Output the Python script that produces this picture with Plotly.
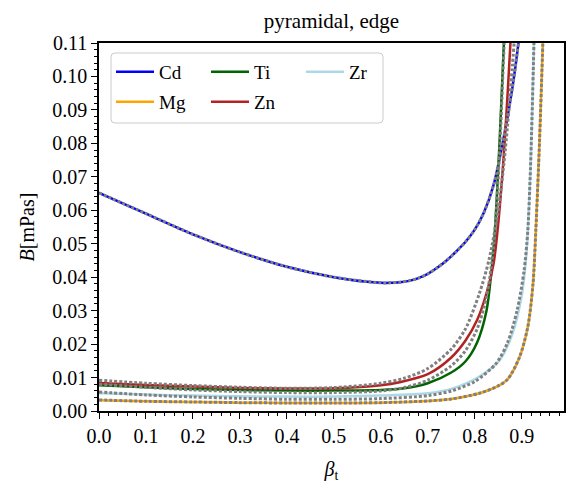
import plotly.graph_objects as go

# ---- data ----
cd_x = [0.0, 0.1, 0.2, 0.3, 0.4, 0.5, 0.6, 0.62, 0.64, 0.66, 0.68, 0.7, 0.72, 0.74, 0.76, 0.78, 0.8, 0.82, 0.84, 0.86, 0.88, 0.893, 0.9]
cd_y = [0.0652, 0.0590, 0.0528, 0.0475, 0.0431, 0.0400, 0.0383, 0.0383, 0.0385, 0.0389, 0.0397, 0.0410, 0.0428, 0.0450, 0.0476, 0.0505, 0.0542, 0.0595, 0.0675, 0.0805, 0.0965, 0.1100, 0.1190]
cd_fit = [0.0652, 0.0590, 0.0528, 0.0475, 0.0431, 0.0400, 0.0383, 0.0383, 0.0385, 0.0389, 0.0397, 0.0410, 0.0428, 0.0450, 0.0476, 0.0505, 0.0542, 0.0595, 0.0675, 0.0805, 0.0965, 0.1100, 0.1190]

mg_x = [0.0, 0.1, 0.2, 0.3, 0.4, 0.5, 0.6, 0.7, 0.75, 0.81, 0.85, 0.87, 0.895, 0.913, 0.924, 0.93, 0.938, 0.945, 0.95]
mg_y = [0.0032, 0.0029, 0.0027, 0.0025, 0.0024, 0.0024, 0.0025, 0.0030, 0.0036, 0.0053, 0.0075, 0.0095, 0.0160, 0.0252, 0.0380, 0.0540, 0.0810, 0.1100, 0.1300]
mg_fit = [0.0033, 0.0029, 0.0027, 0.0025, 0.0024, 0.0024, 0.0025, 0.0030, 0.0036, 0.0053, 0.0075, 0.0095, 0.0160, 0.0252, 0.0380, 0.0540, 0.0810, 0.1100, 0.1300]

ti_x = [0.0, 0.1, 0.2, 0.3, 0.4, 0.5, 0.6, 0.65, 0.7, 0.75, 0.78, 0.805, 0.825, 0.835, 0.842, 0.853, 0.862, 0.867]
ti_y = [0.0077, 0.0071, 0.0066, 0.0063, 0.0061, 0.0061, 0.0063, 0.0068, 0.0083, 0.0115, 0.0148, 0.0205, 0.0300, 0.0410, 0.0520, 0.0810, 0.1100, 0.1250]
ti_fit = [0.0080, 0.0071, 0.0063, 0.0058, 0.0055, 0.0055, 0.0060, 0.0070, 0.0092, 0.0135, 0.0180, 0.0245, 0.0340, 0.0430, 0.0520, 0.0780, 0.1080, 0.1250]

zn_x = [0.0, 0.1, 0.2, 0.3, 0.4, 0.5, 0.6, 0.64, 0.7, 0.75, 0.78, 0.805, 0.825, 0.84, 0.85, 0.864, 0.876, 0.882]
zn_y = [0.0084, 0.0078, 0.0073, 0.0069, 0.0067, 0.0068, 0.0077, 0.0086, 0.0110, 0.0160, 0.0210, 0.0272, 0.0352, 0.0440, 0.0560, 0.0810, 0.1100, 0.1250]
zn_fit_x = [0.0, 0.1, 0.2, 0.3, 0.4, 0.5, 0.6, 0.65, 0.7, 0.75, 0.78, 0.81, 0.83, 0.85, 0.865, 0.88, 0.888]
zn_fit = [0.0092, 0.0083, 0.0076, 0.0071, 0.0068, 0.0070, 0.0083, 0.0098, 0.0127, 0.0185, 0.0245, 0.0352, 0.0450, 0.0600, 0.0780, 0.1030, 0.1180]

zr_x = [0.0, 0.1, 0.2, 0.3, 0.4, 0.5, 0.6, 0.7, 0.75, 0.81, 0.853, 0.88, 0.9, 0.91, 0.913, 0.918, 0.922, 0.926, 0.93]
zr_y = [0.0053, 0.0049, 0.0046, 0.0044, 0.0043, 0.0043, 0.0046, 0.0053, 0.0066, 0.0103, 0.0152, 0.0230, 0.0345, 0.0470, 0.0540, 0.0700, 0.0880, 0.1100, 0.1350]
zr_fit_x = [0.0, 0.1, 0.2, 0.3, 0.4, 0.5, 0.6, 0.7, 0.75, 0.8, 0.846, 0.87, 0.89, 0.905, 0.913, 0.918, 0.922, 0.926, 0.93]
zr_fit = [0.0057, 0.0048, 0.0042, 0.0038, 0.0035, 0.0035, 0.0037, 0.0046, 0.0060, 0.0088, 0.0143, 0.0205, 0.0300, 0.0420, 0.0540, 0.0700, 0.0880, 0.1100, 0.1350]

series = [
    ("Cd", cd_x, cd_y, "#0000ff", "legend"),
    ("Mg", mg_x, mg_y, "#ffa500", "legend2"),
    ("Ti", ti_x, ti_y, "#006400", "legend"),
    ("Zn", zn_x, zn_y, "#b22222", "legend2"),
    ("Zr", zr_x, zr_y, "#add8e6", "legend"),
]
fits = [
    (cd_x, cd_fit),
    (mg_x, mg_fit),
    (ti_x, ti_fit),
    (zn_fit_x, zn_fit),
    (zr_fit_x, zr_fit),
]

FONT = "Liberation Serif"

fig = go.Figure()
for name, x, y, color, leg in series:
    fig.add_trace(go.Scatter(x=x, y=y, mode="lines", name=name, legend=leg,
                             line=dict(color=color, width=2.5, shape="spline", smoothing=0.8)))
for x, y in fits:
    fig.add_trace(go.Scatter(x=x, y=y, mode="lines", showlegend=False,
                             line=dict(color="#808080", width=3, dash="3px,2px",
                                       shape="spline", smoothing=0.8)))

W, H = 585, 491
L, R, T, B = 99, 21, 43, 80
pw, ph = W - L - R, H - T - B

def px(xp):
    return (xp - L) / pw

def py(yp):
    return (H - B - yp) / ph

# legend frame
x0, x1, y0, y1 = px(111), px(383), py(123), py(53)
rx, ry = 4 / pw, 4 / ph
path = (f"M{x0+rx},{y1} L{x1-rx},{y1} Q{x1},{y1} {x1},{y1-ry} "
        f"L{x1},{y0+ry} Q{x1},{y0} {x1-rx},{y0} L{x0+rx},{y0} "
        f"Q{x0},{y0} {x0},{y0+ry} L{x0},{y1-ry} Q{x0},{y1} {x0+rx},{y1} Z")

axis_common = dict(
    showline=True, linecolor="black", linewidth=1.5, mirror=True,
    ticks="outside", ticklen=6, tickwidth=1.2, tickcolor="black",
    showgrid=False, zeroline=False,
    tickfont=dict(family=FONT, size=20, color="black"),
)

leg_common = dict(orientation="h", xanchor="left", yanchor="middle",
                  bgcolor="rgba(0,0,0,0)", borderwidth=0, itemwidth=38, entrywidth=42,
                  font=dict(family=FONT, size=19, color="black"))

fig.update_layout(
    width=W, height=H,
    margin=dict(l=L, r=R, t=T, b=B),
    plot_bgcolor="white", paper_bgcolor="white",
    title=dict(text="pyramidal, edge", x=(L + pw / 2) / W, xanchor="center",
               y=1 - 21 / H, yanchor="middle",
               font=dict(family=FONT, size=21, color="black")),
    xaxis=dict(range=[0, 0.99], tick0=0, dtick=0.1, tickformat=".1f",
               minor=dict(ticks="outside", ticklen=3, tickwidth=1, dtick=0.02, tickcolor="black"),
               title=dict(text="<i>β</i><sub>t</sub>", font=dict(family=FONT, size=20, color="black"),
                          standoff=16),
               **axis_common),
    yaxis=dict(range=[0, 0.11], tick0=0, dtick=0.01, tickformat=".2f",
               minor=dict(ticks="outside", ticklen=3, tickwidth=1, dtick=0.002, tickcolor="black"),
               title=dict(text="<i>B</i>[mPas]", font=dict(family=FONT, size=20, color="black"),
                          standoff=12),
               **axis_common),
    legend=dict(x=px(111), y=py(72), **leg_common),
    legend2=dict(x=px(111), y=py(102), **leg_common),
    shapes=[dict(type="path", xref="paper", yref="paper", path=path,
                 fillcolor="rgba(255,255,255,0.8)", line=dict(color="#cccccc", width=1),
                 layer="above")],
)

fig.write_html("out.html")
